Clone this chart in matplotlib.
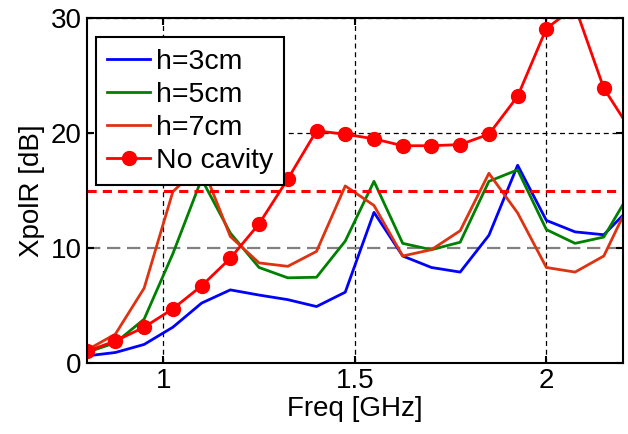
import matplotlib
matplotlib.use('Agg')
import matplotlib.pyplot as plt

# frequency points (GHz), step 0.075
freq = [0.8, 0.875, 0.95, 1.025, 1.1, 1.175, 1.25, 1.325, 1.4, 1.475,
        1.55, 1.625, 1.7, 1.775, 1.85, 1.925, 2.0, 2.075, 2.15, 2.225]

h3 = [0.6, 0.9, 1.6, 3.1, 5.2, 6.35, 5.9, 5.5, 4.9, 6.15,
      13.1, 9.3, 8.3, 7.9, 11.1, 17.2, 12.4, 11.4, 11.15, 13.7]
h5 = [0.9, 1.75, 3.8, 9.5, 16.0, 11.3, 8.3, 7.4, 7.45, 10.6,
      15.8, 10.4, 9.85, 10.5, 15.8, 16.8, 11.6, 10.4, 10.95, 15.2]
h7 = [1.1, 2.5, 6.5, 14.9, 17.3, 11.0, 8.7, 8.4, 9.7, 15.4,
      13.7, 9.3, 9.85, 11.5, 16.5, 13.05, 8.3, 7.9, 9.3, 14.5]
no_cavity = [1.0, 1.9, 3.1, 4.7, 6.7, 9.1, 12.1, 16.0, 20.2, 19.9,
             19.5, 18.9, 18.9, 19.0, 19.9, 23.2, 29.1, 31.0, 23.9, 20.0]
threshold = 15

plt.rcParams['font.family'] = ['Liberation Sans', 'DejaVu Sans']

fig = plt.figure(figsize=(6.28, 4.34), dpi=100)
ax = fig.add_axes([0.138, 0.164, 0.854, 0.794])

ax.plot(freq, h3, color='#0000ff', lw=2, label='h=3cm')
ax.plot(freq, h5, color='#008000', lw=2, label='h=5cm')
ax.plot(freq, h7, color='#dd3311', lw=2, label='h=7cm')
ax.plot(freq, no_cavity, color='#ff0000', lw=2, marker='o', markersize=10, label='No cavity')
ax.axhline(threshold, color='#ff0000', lw=2.2, linestyle=(0, (3, 2)))

ax.set_xlim(0.8, 2.2)
ax.set_ylim(0, 30)
ax.set_xticks([1, 1.5, 2])
ax.set_xticklabels(['1', '1.5', '2'])
ax.set_yticks([0, 10, 20, 30])

ax.grid(True, color='k', linestyle=(0, (4, 3)), lw=0.9)
ax.yaxis.get_gridlines()[1].set(color='#808080', lw=1.6, linestyle=(0, (6, 3)))

ax.tick_params(direction='in', top=True, right=True, labelsize=20, length=5, width=1.5)
for s in ax.spines.values():
    s.set_linewidth(1.5)

ax.set_xlabel('Freq [GHz]', fontsize=20, labelpad=2)
ax.set_ylabel('XpolR [dB]', fontsize=20, labelpad=4)

leg = ax.legend(loc='upper left', bbox_to_anchor=(0.017, 0.945), borderaxespad=0,
                fontsize=20.5, fancybox=False, framealpha=1, edgecolor='k',
                handlelength=1.5, handletextpad=0.2, labelspacing=0.25, borderpad=0.4)
leg.get_frame().set_linewidth(1.5)

fig.savefig('out.png', dpi=100)
